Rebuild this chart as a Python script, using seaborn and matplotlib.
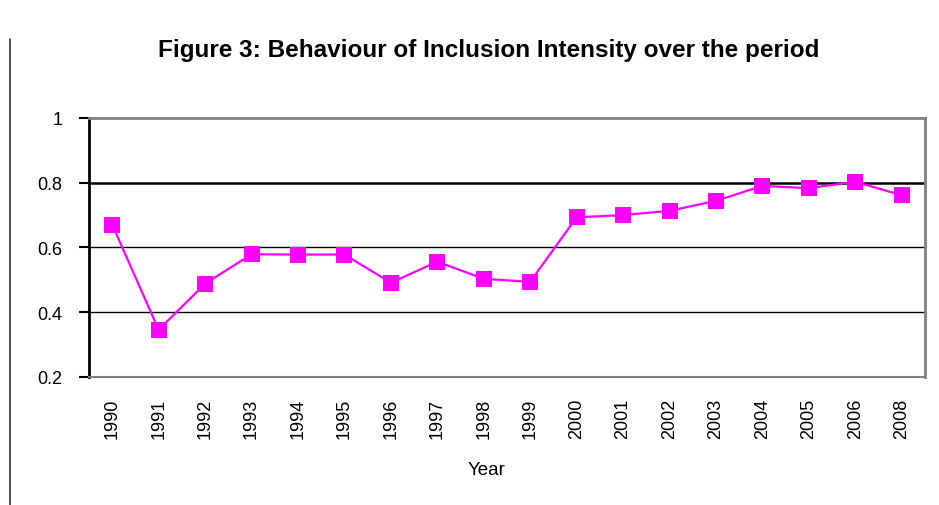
import numpy as np
import pandas as pd
import matplotlib
matplotlib.use('Agg')
import matplotlib.pyplot as plt
import seaborn as sns
from matplotlib.lines import Line2D

# data
years = ['1990', '1991', '1992', '1993', '1994', '1995', '1996', '1997', '1998',
         '1999', '2000', '2001', '2002', '2003', '2004', '2005', '2006', '2008']
intensity = [0.670, 0.346, 0.488, 0.579, 0.578, 0.578, 0.491, 0.556, 0.503,
             0.494, 0.693, 0.700, 0.713, 0.744, 0.790, 0.783, 0.803, 0.761]
y_ticks = [0.2, 0.4, 0.6, 0.8, 1.0]
y_labels = ['0.2', '0.4', '0.6', '0.8', '1']

df = pd.DataFrame({'Year': years, 'Intensity': intensity})

sns.set_style('white')
plt.rcParams['font.family'] = ['Liberation Sans', 'DejaVu Sans']
plt.rcParams['text.color'] = 'black'
plt.rcParams['axes.labelcolor'] = 'black'
plt.rcParams['xtick.color'] = 'black'
plt.rcParams['ytick.color'] = 'black'

fig = plt.figure(figsize=(9.39, 5.06), dpi=100)
ax = fig.add_axes([0.0948, 0.253, 0.8902, 0.512])

# horizontal gridlines (black, the 0.8 line slightly heavier)
for v in [0.4, 0.6, 0.8]:
    ax.axhline(v, color='black', lw=1.8 if v == 0.8 else 1.0, zorder=1)

sns.lineplot(data=df, x='Year', y='Intensity', sort=False, color='#FF00FF',
             lw=1.6, marker='s', markersize=11, markeredgewidth=0,
             ax=ax, zorder=3)

ax.set_xlim(-0.5, len(years) - 0.5)
ax.set_ylim(0.2, 1.0)
ax.set_yticks(y_ticks)
ax.set_yticklabels(y_labels, fontsize=13)
ax.set_xticks(range(len(years)))
ax.set_xticklabels(years, rotation=90, fontsize=13)
ax.set_xticks(np.arange(-0.5, len(years)), minor=True)
ax.tick_params(axis='x', which='major', length=0, pad=15)
ax.tick_params(axis='x', which='minor', length=6, width=1.2, color='black')
ax.tick_params(axis='y', which='major', left=True, length=7, width=1.5,
               color='black', pad=12)

ax.set_xlabel('Year', fontsize=13.5)
ax.xaxis.set_label_coords(0.476, -0.325)
ax.set_ylabel('')

for side in ['top', 'right', 'bottom']:
    ax.spines[side].set_color('#808080')
    ax.spines[side].set_linewidth(2)
ax.spines['bottom'].set_linewidth(1.5)
ax.spines['left'].set_color('black')
ax.spines['left'].set_linewidth(2)

fig.text(0.52, 0.9, 'Figure 3: Behaviour of Inclusion Intensity over the period',
         ha='center', va='center', fontsize=17.5, fontweight='bold')

# thin frame line on the left edge of the page
fig.add_artist(Line2D([0.011, 0.011], [0.0, 0.92], color='#333333', lw=1.2))

fig.savefig('out.png', dpi=100)
